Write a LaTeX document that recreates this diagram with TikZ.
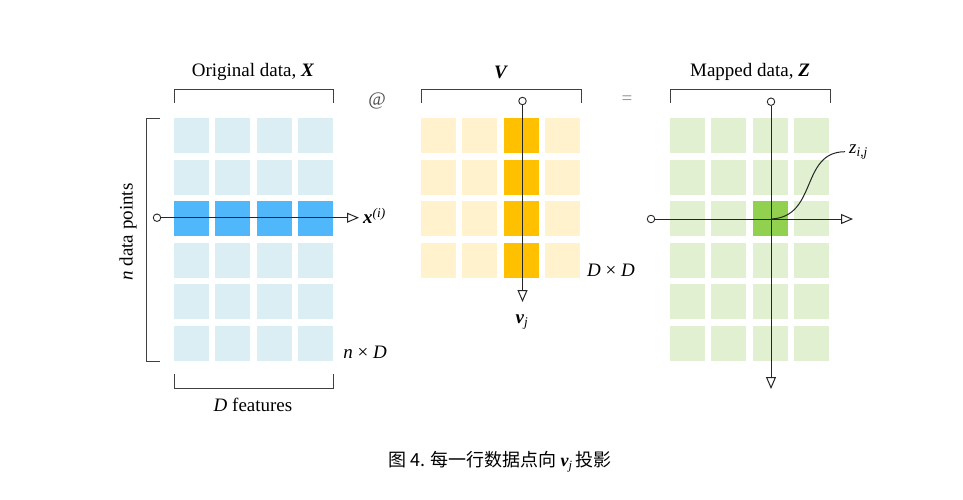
\documentclass[tikz,border=0pt]{standalone}
\usepackage{fontspec}
\setmainfont{Liberation Serif}
\newfontfamily\cjk{Noto Sans CJK SC}
\usetikzlibrary{arrows.meta}
\definecolor{lblue}{HTML}{DAEEF3}
\definecolor{dblue}{HTML}{4FB7FA}
\definecolor{lyel}{HTML}{FFF2CC}
\definecolor{dyel}{HTML}{FFC000}
\definecolor{lgreen}{HTML}{E0F0D0}
\definecolor{dgreen}{HTML}{92D050}
\definecolor{brk}{HTML}{404040}
\tikzset{
  cell/.style={rectangle, draw=none, minimum size=35pt, inner sep=0pt},
  brack/.style={draw=brk, line width=1pt},
  arr/.style={draw=black!85, line width=1pt, -{Triangle[open,length=12pt,width=10pt]}},
  dot/.style={circle, draw=black!85, fill=white, inner sep=0pt, minimum size=7.5pt, line width=0.9pt},
  lbl/.style={inner sep=0pt, font=\fontsize{19}{22}\selectfont},
  grey/.style={inner sep=0pt, font=\fontsize{19}{22}\selectfont},
}
\begin{document}
\begin{tikzpicture}[x=1pt,y=-1pt]
\useasboundingbox (0,0) rectangle (963,499);
% X matrix
\foreach \r in {0,...,5}{\foreach \c in {0,...,3}{
  \pgfmathsetmacro{\xx}{174+41.33*\c+17.5}
  \pgfmathsetmacro{\yy}{118+41.6*\r+17.5}
  \ifnum\r=2 \def\cc{dblue}\else\def\cc{lblue}\fi
  \node[cell, fill=\cc] (X-\r-\c) at (\xx,\yy) {};
}}
% V matrix
\foreach \r in {0,...,3}{\foreach \c in {0,...,3}{
  \pgfmathsetmacro{\xx}{421+41.33*\c+17.5}
  \pgfmathsetmacro{\yy}{118+41.6*\r+17.5}
  \ifnum\c=2 \def\cc{dyel}\else\def\cc{lyel}\fi
  \node[cell, fill=\cc] (V-\r-\c) at (\xx,\yy) {};
}}
% Z matrix
\foreach \r in {0,...,5}{\foreach \c in {0,...,3}{
  \pgfmathsetmacro{\xx}{670+41.33*\c+17.5}
  \pgfmathsetmacro{\yy}{118+41.6*\r+17.5}
  \def\cc{lgreen}
  \ifnum\r=2 \ifnum\c=2 \def\cc{dgreen}\fi\fi
  \node[cell, fill=\cc] (Z-\r-\c) at (\xx,\yy) {};
}}
% brackets
\draw[brack] (174,102.5) -- (174,89) -- (333,89) -- (333,102.5);
\draw[brack] (421,102.5) -- (421,89) -- (581,89) -- (581,102.5);
\draw[brack] (670,102.5) -- (670,89) -- (830,89) -- (830,102.5);
\draw[brack] (174,374) -- (174,388) -- (333,388) -- (333,374);
\draw[brack] (160,118) -- (146.5,118) -- (146.5,361) -- (160,361);
% labels
\node[lbl] (tX) at (253,72) {Original data, \textbf{\textit{X}}};
\node[lbl] (tV) at (501,72) {\textbf{\textit{V}}};
\node[lbl] (tZ) at (750,72) {Mapped data, \textbf{\textit{Z}}};
\node[grey, text=black!70] (at) at (377,101) {@};
\node[grey, text=black!45] (eq) at (627,100) {=};
\node[lbl] (tD) at (253,405) {\textit{D} features};
\node[lbl, rotate=90] (tn) at (128,232) {\textit{n} data points};
\node[lbl] (nD) at (365,352) {\textit{n} × \textit{D}};
\node[lbl] (DD) at (611,270) {\textit{D} × \textit{D}};
% X row arrow
\node[dot] (xs) at (157,217.7) {};
\coordinate (xe) at (359,217.7);
\draw[arr] (xs) -- (xe);
\node[lbl, anchor=west] (xi) at (363,216) {\textbf{\textit{x}}\textsuperscript{\textit{(i)}}};
% V column arrow
\node[dot] (vs) at (522.5,101) {};
\coordinate (ve) at (522.5,302);
\draw[arr] (vs) -- (ve);
\node[lbl] (vj) at (522,322) {\textbf{\textit{v}}\textsubscript{\textit{j}}};
% Z arrows
\node[dot] (zhs) at (651,219) {};
\coordinate (zhe) at (853,219);
\draw[arr] (zhs) -- (zhe);
\node[dot] (zvs) at (771,101.7) {};
\coordinate (zve) at (771,389);
\draw[arr] (zvs) -- (zve);
\coordinate (zc) at (771,219);
\coordinate (zend) at (845,151.7);
\draw[draw=black!85, line width=1pt] (zc) .. controls (818,217) and (800,152) .. (zend);
\node[lbl, anchor=west] (zij) at (849,152) {\textit{z}\textsubscript{\textit{i},\textit{j}}};
% caption
\node[inner sep=0pt, font=\fontsize{18}{21}\selectfont] (cap) at (500,462) {\cjk 图 4. 每一行数据点向 {\rmfamily\bfseries\itshape v}\textsubscript{\rmfamily\itshape j}\,投影};
\end{tikzpicture}
\end{document}
